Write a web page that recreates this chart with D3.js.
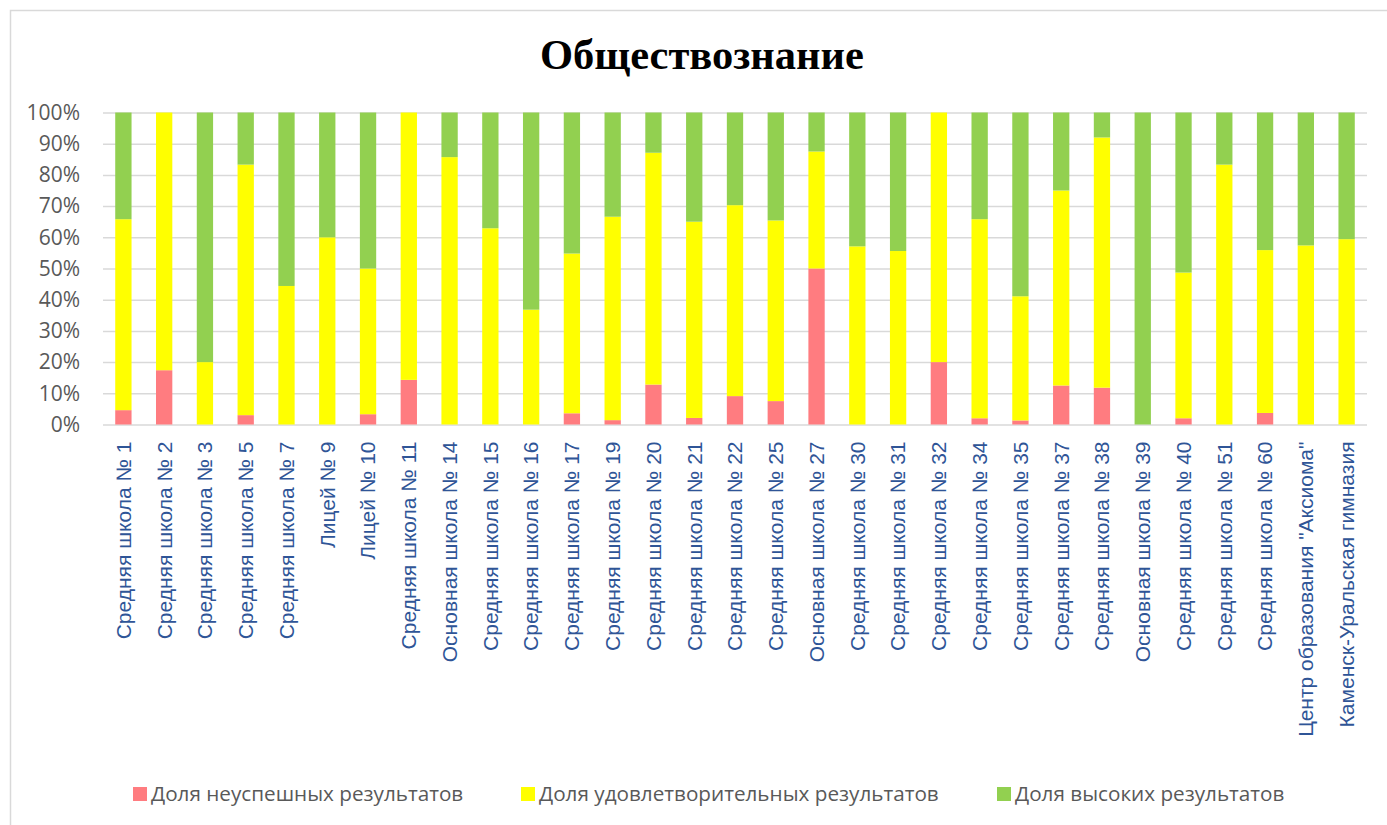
<!DOCTYPE html>
<html><head><meta charset="utf-8">
<script src="https://cdn.jsdelivr.net/npm/d3@7"></script>
<style>body{margin:0;background:#fff}svg{display:block}</style>
</head><body>
<svg id="chart" width="1387" height="825"></svg>
<script>
const categories = ["Средняя школа № 1","Средняя школа № 2","Средняя школа № 3","Средняя школа № 5","Средняя школа № 7","Лицей № 9","Лицей № 10","Средняя школа № 11","Основная школа № 14","Средняя школа № 15","Средняя школа № 16","Средняя школа № 17","Средняя школа № 19","Средняя школа № 20","Средняя школа № 21","Средняя школа № 22","Средняя школа № 25","Основная школа № 27","Средняя школа № 30","Средняя школа № 31","Средняя школа № 32","Средняя школа № 34","Средняя школа № 35","Средняя школа № 37","Средняя школа № 38","Основная школа № 39","Средняя школа № 40","Средняя школа № 51","Средняя школа № 60","Центр образования \"Аксиома\"","Каменск-Уральская гимназия"];
const failShare = [4.6,17.4,0,3.0,0,0,3.3,14.3,0,0,0,3.6,1.4,12.8,2.1,9.1,7.5,50,0,0,20,2.0,1.3,12.5,11.8,0,2.0,0,3.7,0,0];
const satisfShare = [61.2,82.6,20,80.3,44.4,60,46.7,85.7,85.7,62.9,36.8,51.2,65.2,74.3,62.9,61.2,57.9,37.5,57.1,55.6,80,63.8,39.8,62.5,80.2,0,46.7,83.3,52.2,57.4,59.4];
const highShare = [34.2,0,80,16.7,55.6,40,50,0,14.3,37.1,63.2,45.2,33.4,12.9,35.0,29.7,34.6,12.5,42.9,44.4,0,34.2,58.9,25,8.0,100,51.3,16.7,44.1,42.6,40.6];
const seriesNames = ["Доля неуспешных результатов","Доля удовлетворительных результатов","Доля высоких результатов"];
const seriesColors = ["#FF7C80","#FFFF00","#92D050"];
const yTicks = [0,0.1,0.2,0.3,0.4,0.5,0.6,0.7,0.8,0.9,1];
const title = "Обществознание";

const svg = d3.select("#chart");
const plot = {left:103, right:1367, top:112.5, bottom:424.5};

// chart frame
svg.append("rect").attr("x",10.5).attr("y",10.5).attr("width",1400).attr("height",840)
  .attr("fill","none").attr("stroke","#d9d9d9").attr("stroke-width",1.5);

svg.append("text").attr("x",702).attr("y",69).attr("text-anchor","middle")
  .attr("font-family","'Liberation Serif','Times New Roman',serif").attr("font-weight","bold")
  .attr("font-size",42.5).attr("fill","#000").text(title);

const x = d3.scaleBand().domain(categories).range([plot.left, plot.right]).paddingInner(0.6).paddingOuter(0.3);
const y = d3.scaleLinear().domain([0,1]).range([plot.bottom, plot.top]);

// gridlines
const grid = svg.append("g").attr("transform",`translate(${plot.left},0)`)
  .call(d3.axisLeft(y).tickValues(yTicks).tickSize(-(plot.right-plot.left)).tickFormat(""));
grid.select(".domain").remove();
grid.selectAll("line").attr("stroke","#d9d9d9").attr("stroke-width",1.5);

// y axis labels
const yAx = svg.append("g").attr("transform",`translate(${plot.left},0)`)
  .call(d3.axisLeft(y).tickValues(yTicks).tickSize(0).tickPadding(23).tickFormat(d3.format(".0%")));
yAx.select(".domain").remove();
yAx.selectAll("text").attr("font-family","'Open Sans','Noto Sans',sans-serif").attr("font-size",21).attr("fill","#595959");

// stacked bars
const rows = categories.map((c,i)=>({cat:c, s0:failShare[i]/100, s1:satisfShare[i]/100, s2:highShare[i]/100}));
const stack = d3.stack().keys(["s0","s1","s2"])(rows);
svg.append("g").selectAll("g").data(stack).join("g").attr("fill",(d,i)=>seriesColors[i])
  .selectAll("rect").data(d=>d).join("rect")
  .attr("x",d=>x(d.data.cat)).attr("width",x.bandwidth())
  .attr("y",d=>y(d[1])).attr("height",d=>Math.max(0,y(d[0])-y(d[1])));

// x axis
const xAx = svg.append("g").attr("transform",`translate(0,${plot.bottom})`)
  .call(d3.axisBottom(x).tickSize(0));
xAx.select(".domain").remove();
xAx.selectAll("text").attr("transform","rotate(-90)").attr("text-anchor","end")
  .attr("x",-17).attr("y",0).attr("dy","0.35em")
  .attr("font-family","'Liberation Sans',Arial,sans-serif").attr("font-size",21).attr("fill","#2F5597");

// legend
const legendX = [133, 521, 997];
const lg = svg.append("g").selectAll("g").data(seriesNames).join("g")
  .attr("transform",(d,i)=>`translate(${legendX[i]},787)`);
lg.append("rect").attr("width",14).attr("height",14).attr("fill",(d,i)=>seriesColors[i]);
lg.append("text").attr("x",18).attr("y",7).attr("dy","0.35em")
  .attr("font-family","'Open Sans','Noto Sans',sans-serif").attr("font-size",20.7).attr("fill","#595959").text(d=>d);
</script>
</body></html>
